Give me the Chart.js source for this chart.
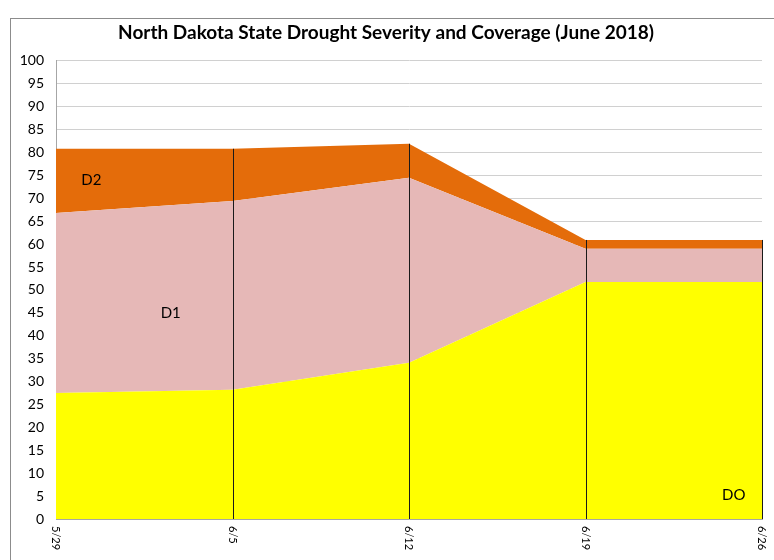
<!DOCTYPE html>
<html>
<head>
<meta charset="utf-8">
<script src="https://cdn.jsdelivr.net/npm/chart.js@4"></script>
<style>
  body { margin: 0; background: #fff; }
  #frame { position: absolute; left: 10px; top: 18px; width: 800px; height: 600px; border: 1px solid #8c8c8c; }
  #wrap { position: absolute; left: 0; top: 0; width: 774px; height: 560px; }
</style>
</head>
<body>
<div id="frame"></div>
<div id="wrap"><canvas id="chart" width="774" height="560"></canvas></div>
<script>
// week labels
const weeks = ["5/29", "6/5", "6/12", "6/19", "6/26"];

// layer thickness (% of state area), stacked bottom to top
const d0 = [27.5, 28.2, 34.1, 51.7, 51.7];
const d1 = [39.3, 41.2, 40.4, 7.3, 7.3];
const d2 = [14.0, 11.4, 7.4, 1.9, 1.9];

// area labels: [text, x position (category index), y value]
const areaLabels = [["D2", 0.2, 74], ["D1", 0.65, 45], ["DO", 3.84, 5.2]];

const font = "Lato, 'Open Sans', sans-serif";

const dropLines = {
  id: "dropLines",
  afterDatasetsDraw(chart) {
    const ctx = chart.ctx;
    const x = chart.scales.x, y = chart.scales.y;
    ctx.save();
    ctx.strokeStyle = "#1a1a1a";
    ctx.lineWidth = 1;
    for (let i = 1; i < weeks.length; i++) {
      const top = d0[i] + d1[i] + d2[i];
      const px = Math.round(x.getPixelForValue(i)) + 0.5;
      ctx.beginPath();
      ctx.moveTo(px, y.getPixelForValue(top));
      ctx.lineTo(px, y.getPixelForValue(0));
      ctx.stroke();
    }
    // area labels
    ctx.fillStyle = "#000";
    ctx.font = "15px " + font;
    ctx.textAlign = "center";
    ctx.textBaseline = "middle";
    areaLabels.forEach(([t, xi, yv]) => {
      ctx.fillText(t, x.getPixelForValue(xi), y.getPixelForValue(yv));
    });
    // x labels, rotated clockwise
    ctx.font = "11px " + font;
    ctx.textAlign = "left";
    weeks.forEach((w, i) => {
      ctx.save();
      ctx.translate(x.getPixelForValue(i), y.bottom + 7);
      ctx.rotate(Math.PI / 2);
      ctx.fillText(w, 0, 0);
      ctx.restore();
    });
    ctx.restore();
  }
};

new Chart(document.getElementById("chart"), {
  type: "line",
  data: {
    labels: weeks,
    datasets: [
      { label: "DO", data: d0, backgroundColor: "#FFFF00", fill: "origin" },
      { label: "D1", data: d1, backgroundColor: "#E6B8B7", fill: "-1" },
      { label: "D2", data: d2, backgroundColor: "#E46C0A", fill: "-1" }
    ]
  },
  options: {
    responsive: false,
    animation: false,
    elements: { line: { borderWidth: 0, tension: 0 }, point: { radius: 0 } },
    layout: { padding: { left: 10, right: 12, top: 0, bottom: 0 } },
    plugins: {
      legend: { display: false },
      tooltip: { enabled: false },
      title: {
        display: true,
        text: "North Dakota State Drought Severity and Coverage (June 2018)",
        color: "#000",
        font: { family: font, size: 19, weight: "bold" },
        padding: { top: 21, bottom: 17 }
      }
    },
    scales: {
      x: {
        grid: { display: false },
        border: { color: "#a6a6a6" },
        ticks: { display: false },
        afterFit: (s) => { s.height = 41; }
      },
      y: {
        stacked: true,
        min: 0,
        max: 100,
        grid: { color: "#d0d0d0", drawTicks: false },
        border: { color: "#a6a6a6" },
        ticks: { stepSize: 5, padding: 12, color: "#000", font: { family: font, size: 14 } },
        afterFit: (s) => { s.width = 46; }
      }
    }
  },
  plugins: [dropLines]
});
</script>
</body>
</html>
